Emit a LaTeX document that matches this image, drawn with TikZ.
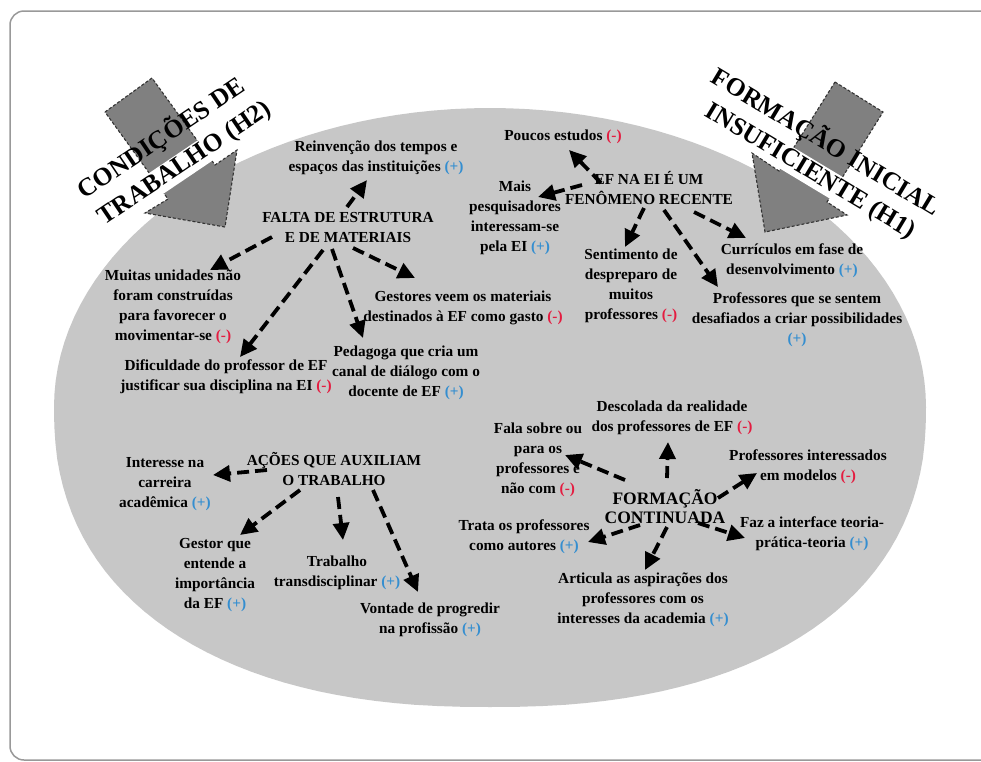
\documentclass[tikz,border=0pt]{standalone}
\usepackage{fontspec}
\setmainfont{Liberation Serif}
\usepackage{xcolor}
\usepackage{tikz}
\usetikzlibrary{shapes,arrows,positioning,calc,arrows.meta}

\definecolor{negred}{RGB}{228,28,64}
\definecolor{posblue}{RGB}{52,142,208}
\newcommand{\minusmark}{\textcolor{negred}{(-)}}
\newcommand{\plusmark}{\textcolor{posblue}{(+)}}

\tikzset{
    item/.style={align=center, inner sep=1pt, font=\bfseries\fontsize{15.3}{20}\selectfont},
    hub/.style={item, font=\bfseries\fontsize{17.5}{19}\selectfont},
    flow/.style={-{Triangle[length=17pt, width=16pt]}, line width=3.8pt, dash pattern=on 12pt off 6pt},
    block/.style={fill=black!50, draw=black!80, line width=1.1pt, dash pattern=on 3pt off 2pt},
    tag/.style={font=\bfseries\fontsize{25.5}{30}\selectfont, inner sep=1pt}
}

\begin{document}
\begin{tikzpicture}[x=1pt, y=-1pt]
    \useasboundingbox (0,0) rectangle (981,761);
    \fill [white] (0,0) rectangle (981,761);
    \draw [black!40, line width=1.5pt, rounded corners=14pt] (10,11) rectangle (1010,760);
    % oval, rounder on top, fuller below
    \fill [black!22] plot [domain=0:180, samples=73] ({490+436*cos(\x)}, {407-299*sin(\x)})
        -- plot [domain=180:360, samples=73] ({490+436*sign(cos(\x))*pow(abs(cos(\x)),0.87)}, {407+300*pow(abs(sin(\x))+0.00001,0.87)})
        -- cycle;

    % hypothesis arrows
    \path [block] (105,112) -- (152,78) -- (215,165) -- (237,150) -- (225,227) -- (145,213) -- (168,199) -- cycle;
    \node [tag, rotate=34] (h2top) at (161,138) {CONDIÇÕES DE};
    \node [tag, rotate=34, fill=white] (h2bot) at (185,164) {TRABALHO (H2)};

    \path [block] (835,82) -- (883,112) -- (827,202) -- (847,215) -- (765,232) -- (752,153) -- (779,171) -- cycle;
    \node [tag, rotate=-31] (h1top) at (826,142) {FORMAÇÃO INICIAL};
    \node [tag, rotate=-31, fill=white] (h1bot) at (810,172) {INSUFICIENTE (H1)};

    % estrutura
    \node [item] (falta) at (348,228) {FALTA DE ESTRUTURA\\E DE MATERIAIS};
    \node [item] (reinv) at (376,158) {Reinvenção dos tempos e\\espaços das instituições \plusmark};
    \node [item] (muitas) at (173,307) {Muitas unidades não\\foram construídas\\para favorecer o\\movimentar-se \minusmark};
    \node [item] (gestores) at (463,308) {Gestores veem os materiais\\destinados à EF como gasto \minusmark};
    \node [item] (dific) at (226,377) {Dificuldade do professor de EF\\justificar sua disciplina na EI \minusmark};
    \node [item] (pedag) at (406,373) {Pedagoga que cria um\\canal de diálogo com o\\docente de EF \plusmark};

    % fenomeno recente
    \node [item] (ef) at (649,188) {EF NA EI É UM\\FENÔMENO RECENTE};
    \node [item] (poucos) at (563,137) {Poucos estudos \minusmark};
    \node [item] (mais) at (515,218) {Mais\\pesquisadores\\interessam-se\\pela EI \plusmark};
    \node [item] (sentim) at (631,286) {Sentimento de\\despreparo de\\muitos\\professores \minusmark};
    \node [item] (curric) at (792,261) {Currículos em fase de\\desenvolvimento \plusmark};
    \node [item] (profsent) at (797,320) {Professores que se sentem\\desafiados a criar possibilidades\\\plusmark};

    % acoes
    \node [item] (acoes) at (334,469) {AÇÕES QUE AUXILIAM\\O TRABALHO};
    \node [item] (interesse) at (165,484) {Interesse na\\carreira\\acadêmica \plusmark};
    \node [item] (gestor) at (215,575) {Gestor que\\entende a\\importância\\da EF \plusmark};
    \node [item] (trabalho) at (337,573) {Trabalho\\transdisciplinar \plusmark};
    \node [item] (vontade) at (430,620) {Vontade de progredir\\na profissão \plusmark};

    % formacao continuada
    \node [hub] (formacao) at (665,507) {FORMAÇÃO\\CONTINUADA};
    \node [item] (descol) at (672,418) {Descolada da realidade\\dos professores de EF \minusmark};
    \node [item] (fala) at (538,460) {Fala sobre ou\\para os\\professores e\\não com \minusmark};
    \node [item] (profint) at (808,467) {Professores interessados\\em modelos \minusmark};
    \node [item] (trata) at (524,537) {Trata os professores\\como autores \plusmark};
    \node [item] (faz) at (812,534) {Faz a interface teoria-\\prática-teoria \plusmark};
    \node [item] (articula) at (643,600) {Articula as aspirações dos\\professores com os\\interesses da academia \plusmark};

    \draw [flow] ([shift={(-1,-21)}]falta.center) -- ([shift={(-9,22)}]reinv.center);
    \draw [flow] ([shift={(-76,9)}]falta.center) -- ([shift={(37,-37)}]muitas.center);
    \draw [flow] ([shift={(-25,22)}]falta.center) -- ([shift={(14,-20)}]dific.center);
    \draw [flow] ([shift={(-16,21)}]falta.center) -- ([shift={(-43,-35)}]pedag.center);
    \draw [flow] ([shift={(5,20)}]falta.center) -- ([shift={(-48,-30)}]gestores.center);

    \draw [flow] ([shift={(-48,-5)}]ef.center) -- ([shift={(6,13)}]poucos.center);
    \draw [flow] ([shift={(-67,-3)}]ef.center) -- ([shift={(23,-21)}]mais.center);
    \draw [flow] ([shift={(-5,20)}]ef.center) -- ([shift={(-6,-39)}]sentim.center);
    \draw [flow] ([shift={(45,24)}]ef.center) -- ([shift={(-46,-23)}]curric.center);
    \draw [flow] ([shift={(15,22)}]ef.center) -- ([shift={(-79,-33)}]profsent.center);

    \draw [flow] ([shift={(-67,1)}]acoes.center) -- ([shift={(48,-9)}]interesse.center);
    \draw [flow] ([shift={(-34,21)}]acoes.center) -- ([shift={(25,-40)}]gestor.center);
    \draw [flow] ([shift={(4,28)}]acoes.center) -- ([shift={(6,-33)}]trabalho.center);
    \draw [flow] ([shift={(39,21)}]acoes.center) -- ([shift={(-12,-28)}]vontade.center);

    \draw [flow] ([shift={(2,-29)}]formacao.center) -- ([shift={(-4,24)}]descol.center);
    \draw [flow] ([shift={(-40,-27)}]formacao.center) -- ([shift={(27,-5)}]fala.center);
    \draw [flow] ([shift={(53,-9)}]formacao.center) -- ([shift={(-51,6)}]profint.center);
    \draw [flow] ([shift={(-25,18)}]formacao.center) -- ([shift={(64,5)}]trata.center);
    \draw [flow] ([shift={(33,16)}]formacao.center) -- ([shift={(-67,4)}]faz.center);
    \draw [flow] ([shift={(2,20)}]formacao.center) -- ([shift={(2,-30)}]articula.center);
\end{tikzpicture}
\end{document}
